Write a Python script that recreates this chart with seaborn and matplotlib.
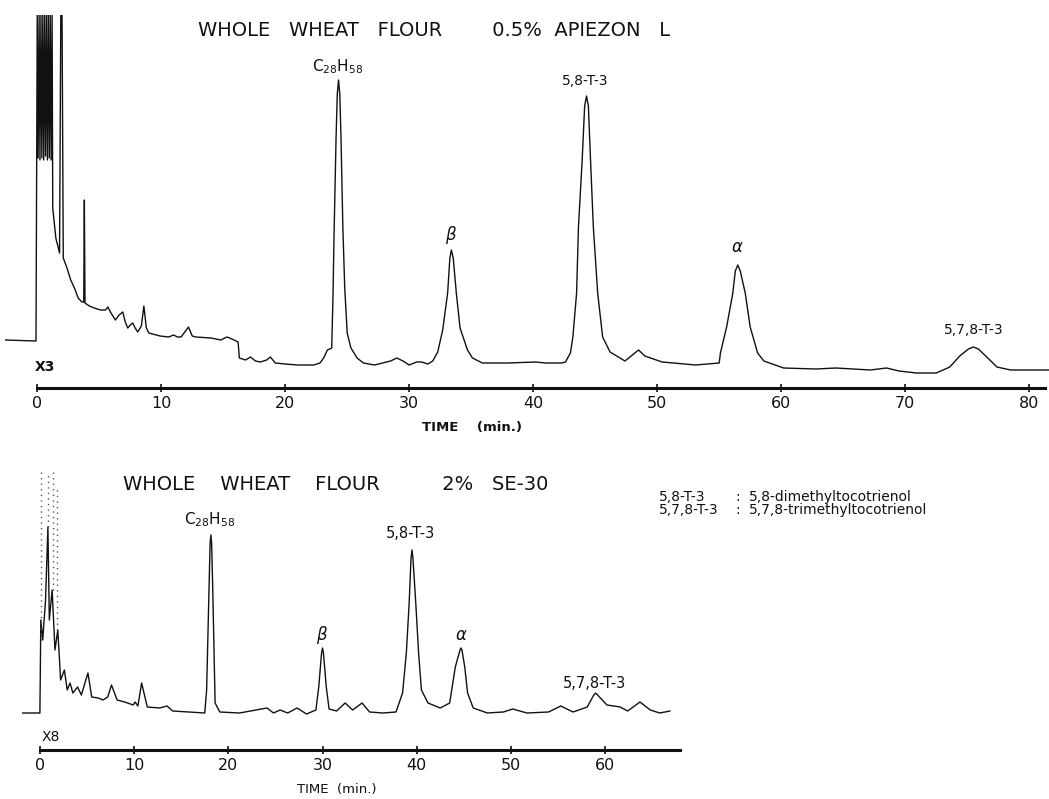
import numpy as np
import pandas as pd
import matplotlib
matplotlib.use('Agg')
import matplotlib.pyplot as plt
import seaborn as sns

# chromatogram 1: 0.5% Apiezon L (time in min, pen response in chart units)
apiezon_t = [-2.6, -0.1, 0.0, 0.07, 0.15, 0.22, 0.3, 0.37, 0.45, 0.52, 0.6, 0.67, 0.75,
             0.82, 0.9, 0.97, 1.05, 1.12, 1.2,
             1.25, 1.5, 1.8, 1.9, 2.0, 2.1, 2.4, 2.7, 3.0, 3.3, 3.6, 3.75, 3.8, 3.85,
             4.2, 4.6, 5.1, 5.5, 5.7, 5.9, 6.3, 6.6, 6.9, 7.1, 7.3, 7.5, 7.7, 7.9, 8.1,
             8.4, 8.6, 8.8, 9.0, 9.9, 10.6, 11.0, 11.3, 11.6, 11.9, 12.2, 12.5, 12.8,
             14.0, 14.8, 15.3, 15.7, 16.2, 16.3, 16.8, 17.2, 17.6, 18.0, 18.5, 18.8,
             19.2, 20.0, 21.0, 22.3, 22.8, 23.1, 23.4, 23.75, 23.85, 23.95, 24.1, 24.2,
             24.3, 24.4, 24.5, 24.65, 24.8, 25.0, 25.3, 25.8, 26.3, 27.2, 28.5, 29.0,
             29.5, 30.0, 30.6, 31.0, 31.5, 31.9, 32.3, 32.7, 33.1, 33.28, 33.4, 33.55,
             33.8, 34.1, 34.7, 35.1, 35.9, 38.0, 40.2, 41.0, 42.3, 42.6, 43.0, 43.2,
             43.5, 43.65, 43.95, 44.15, 44.3, 44.45, 44.65, 44.85, 45.2, 45.6, 46.2,
             47.0, 47.4, 48.0, 48.5, 49.0, 50.4, 53.1, 55.0, 55.1, 55.6, 56.1, 56.3,
             56.5, 56.7, 57.1, 57.5, 58.1, 58.6, 60.2, 62.8, 64.4, 67.2, 68.5, 69.5,
             70.9, 72.5, 73.6, 74.4, 75.1, 75.5, 75.9, 76.5, 77.4, 78.5, 81.6]
apiezon_h = [48, 47, 373, 230, 373, 228, 373, 230, 373, 228, 373, 232, 373,
             228, 373, 230, 373, 228, 373,
             180, 150, 135, 373, 373, 130, 120, 108, 100, 90, 86, 86, 188, 85,
             82, 80, 78, 78, 81, 76, 68, 73, 76, 66, 60, 63, 65, 60, 56,
             62, 82, 60, 55, 52, 51, 53, 51, 51, 56, 61, 52, 51,
             50, 48, 51, 49, 46, 30, 28, 31, 27, 26, 28, 31,
             25, 24, 23, 23, 25, 30, 38, 40, 90, 160, 250, 294,
             308, 294, 250, 160, 100, 55, 40, 30, 25, 23, 27, 30,
             27, 23, 26, 26, 24, 27, 36, 58, 95, 130, 138, 130,
             95, 60, 38, 30, 25, 25, 26, 25, 25, 26, 35, 51,
             95, 161, 228, 282, 292, 282, 220, 161, 95, 51, 36,
             30, 27, 33, 38, 32, 26, 23, 25, 35, 61, 95, 117,
             123, 117, 95, 61, 35, 27, 20, 19, 20, 18, 20, 17,
             15, 15, 21, 32, 39, 41, 39, 32, 21, 18, 18]

# chromatogram 2: 2% SE-30
se30_t = [-1.9, -0.1, 0.0, 0.1, 0.3, 0.6, 0.85, 1.0, 1.3, 1.6, 1.9, 2.2, 2.6, 2.9, 3.2,
          3.5, 4.0, 4.4, 5.1, 5.5, 6.2, 6.7, 7.2, 7.6, 8.2, 9.0, 9.9, 10.1, 10.4, 10.8,
          11.4, 12.7, 13.5, 14.1, 17.5, 17.7, 17.95, 18.07, 18.15, 18.23, 18.35, 18.6,
          19.1, 21.2, 24.1, 24.8, 25.5, 26.3, 27.3, 28.3, 29.3, 29.6, 29.9, 30.0, 30.1,
          30.4, 30.7, 31.5, 32.4, 33.2, 34.2, 35.0, 36.4, 37.8, 38.5, 38.9, 39.2, 39.4,
          39.5, 39.6, 39.9, 40.2, 40.5, 41.2, 42.5, 43.5, 44.1, 44.3, 44.6, 44.7, 44.8,
          45.1, 45.4, 46.0, 47.5, 49.2, 50.2, 51.7, 54.0, 55.3, 56.6, 58.1, 58.8, 59.0,
          59.2, 60.2, 61.6, 62.4, 63.7, 64.8, 65.8, 66.9]
se30_h = [37, 37, 37, 130, 110, 150, 223, 130, 160, 100, 120, 70, 80, 60, 67,
          57, 63, 55, 77, 53, 52, 50, 53, 65, 50, 48, 45, 48, 44, 67,
          43, 42, 44, 39, 37, 60, 160, 207, 215, 207, 160, 47,
          38, 37, 42, 37, 40, 37, 42, 36, 40, 63, 97, 102, 97,
          63, 41, 39, 47, 40, 47, 38, 37, 38, 57, 97, 147, 192,
          200, 192, 147, 97, 60, 47, 42, 47, 83, 90, 100, 102, 100,
          83, 57, 42, 37, 38, 41, 37, 38, 44, 38, 43, 55, 57,
          55, 45, 43, 39, 48, 40, 37, 39]

# faint dotted pen marks above the SE-30 solvent front
front_t = [0.1, 0.1, np.nan, 0.85, 0.85, np.nan, 1.4, 1.4, np.nan, 1.8, 1.8]
front_h = [110, 278, np.nan, 223, 275, np.nan, 160, 278, np.nan, 120, 262]

sns.set_theme(style='white')
plt.rcParams['font.family'] = ['DejaVu Sans']

fig = plt.figure(figsize=(10.49, 7.99), dpi=100)
ax1 = fig.add_axes([5 / 1049, 1 - 388 / 799, 1044 / 1049, 373 / 799])
ax2 = fig.add_axes([22 / 1049, 1 - 750 / 799, 658 / 1049, 300 / 799])

ink = '#111111'
sns.lineplot(x=apiezon_t, y=apiezon_h, ax=ax1, sort=False, estimator=None, color=ink, lw=1.0)
sns.lineplot(x=se30_t, y=se30_h, ax=ax2, sort=False, estimator=None, color=ink, lw=1.0)
ax2.plot(front_t, front_h, color='#555555', lw=1, ls=(0, (1, 3)))

for ax, xmin, xmax, ymax, end in [(ax1, -2.6, 81.6, 373, 81.3), (ax2, -1.9, 67.95, 300, 68)]:
    ax.set_xlim(xmin, xmax)
    ax.set_ylim(0, ymax)
    ax.set_facecolor('none')
    for s in ['top', 'left', 'right']:
        ax.spines[s].set_visible(False)
    ax.spines['bottom'].set_color(ink)
    ax.spines['bottom'].set_linewidth(2.2)
    ax.spines['bottom'].set_bounds(0, end)
    ax.set_xticks(range(0, int(end) + 1, 10))
    ax.set_yticks([])
    ax.tick_params(axis='x', direction='inout', length=6, width=1.2, color=ink,
                   pad=3, labelsize=11.5, labelcolor=ink, bottom=True)
    ax.set_xlabel('')
    ax.set_ylabel('')

# top panel text
ax1.text(32.0, 358, 'WHOLE   WHEAT   FLOUR        0.5%  APIEZON   L', ha='center', va='center',
         fontsize=14, color=ink)
ax1.text(24.2, 321, r'C$_{28}$H$_{58}$', ha='center', va='center', fontsize=11, color=ink)
ax1.text(44.2, 307, '5,8-T-3', ha='center', va='center', fontsize=10, color=ink)
ax1.text(33.4, 153, r'$\beta$', ha='center', va='center', fontsize=12, color=ink)
ax1.text(56.5, 141, r'$\alpha$', ha='center', va='center', fontsize=12, color=ink)
ax1.text(75.5, 58, '5,7,8-T-3', ha='center', va='center', fontsize=10, color=ink)
ax1.text(0.6, 21, 'X3', ha='center', va='center', fontsize=10, fontweight='bold', color=ink)
ax1.text(35.1, -40, 'TIME    (min.)', ha='center', va='center', fontsize=9.5,
         fontweight='bold', color=ink, clip_on=False)

# bottom panel text
ax2.text(31.4, 265, 'WHOLE    WHEAT    FLOUR          2%   SE-30', ha='center', va='center',
         fontsize=14, color=ink)
ax2.text(18.0, 230, r'C$_{28}$H$_{58}$', ha='center', va='center', fontsize=11, color=ink)
ax2.text(39.3, 217, '5,8-T-3', ha='center', va='center', fontsize=10.5, color=ink)
ax2.text(30.0, 115, r'$\beta$', ha='center', va='center', fontsize=12, color=ink)
ax2.text(44.7, 115, r'$\alpha$', ha='center', va='center', fontsize=12, color=ink)
ax2.text(58.9, 67, '5,7,8-T-3', ha='center', va='center', fontsize=10.5, color=ink)
ax2.text(1.2, 13, 'X8', ha='center', va='center', fontsize=10, color=ink)
ax2.text(31.5, -40, 'TIME  (min.)', ha='center', va='center', fontsize=9.5,
         color=ink, clip_on=False)

# key to abbreviations
abbrev = ['5,8-T-3', '5,7,8-T-3']
names = ['5,8-dimethyltocotrienol', '5,7,8-trimethyltocotrienol']
for i, (a, n) in enumerate(zip(abbrev, names)):
    yy = 1 - (497 + 13 * i) / 799
    fig.text(659 / 1049, yy, a, ha='left', va='center', fontsize=10, color=ink)
    fig.text(735 / 1049, yy, ':', ha='left', va='center', fontsize=10, color=ink)
    fig.text(749 / 1049, yy, n, ha='left', va='center', fontsize=10, color=ink)

fig.savefig('out.png', dpi=100, facecolor='white')
